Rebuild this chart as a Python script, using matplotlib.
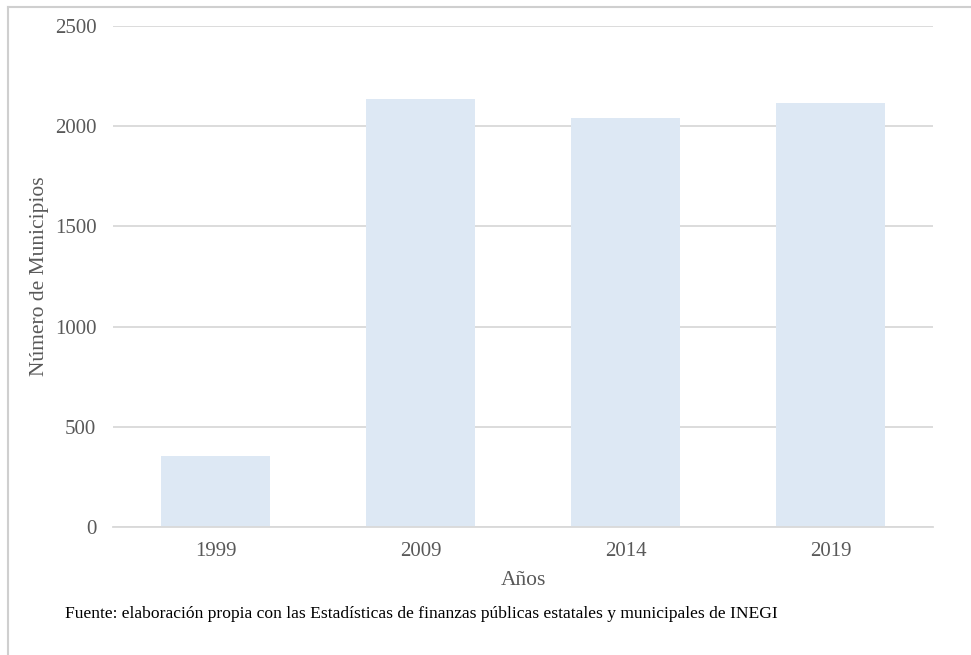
import matplotlib
matplotlib.use("Agg")
import matplotlib.pyplot as plt
from matplotlib.lines import Line2D

years = ["1999", "2009", "2014", "2019"]
municipios = [355, 2136, 2043, 2114]
y_ticks = [0, 500, 1000, 1500, 2000, 2500]

plt.rcParams["font.family"] = ["Liberation Serif", "DejaVu Serif"]

W, H = 971, 655
fig = plt.figure(figsize=(W / 100, H / 100), dpi=100)

# plot area in pixel coordinates
left, right, top, bottom = 113, 933, 26, 527
ax = fig.add_axes([left / W, 1 - bottom / H, (right - left) / W, (bottom - top) / H])

x = range(len(years))
ax.bar(x, municipios, width=0.527, color="#dde8f4", zorder=2)
ax.set_xlim(-0.5, len(years) - 0.5)
ax.set_ylim(0, 2500)
ax.set_yticks(y_ticks)
ax.set_yticklabels([str(v) for v in y_ticks])
ax.set_xticks(list(x))
ax.set_xticklabels(years)

ax.grid(axis="y", color="#d9d9d9", linewidth=1.3, zorder=0)
ax.set_axisbelow(True)
for side in ["top", "right", "left"]:
    ax.spines[side].set_visible(False)
ax.spines["bottom"].set_color("#d9d9d9")
ax.spines["bottom"].set_linewidth(1.3)
ax.tick_params(axis="both", length=0, labelsize=15, colors="#595959")
ax.tick_params(axis="y", pad=12)
ax.tick_params(axis="x", pad=11)

ax.set_ylabel("Número de Municipios", fontsize=15.5, color="#595959", labelpad=4)
ax.set_xlabel("Años", fontsize=15.5, color="#595959", labelpad=7)

fig.text(65 / W, 1 - 614 / H, "Fuente: elaboración propia con las Estadísticas de finanzas públicas estatales y municipales de INEGI",
         fontsize=12.6, color="black", ha="left", va="center")

# outer frame lines (top and left)
fig.add_artist(Line2D([8 / W, 1], [1 - 7 / H, 1 - 7 / H], color="#cfcfcf", linewidth=1.5, transform=fig.transFigure))
fig.add_artist(Line2D([8 / W, 8 / W], [0, 1 - 7 / H], color="#cfcfcf", linewidth=1.5, transform=fig.transFigure))

fig.savefig("out.png", dpi=100)
